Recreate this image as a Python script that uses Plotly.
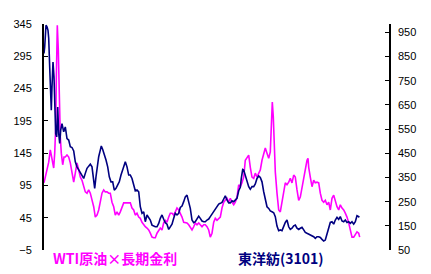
import plotly.graph_objects as go

# time index (weeks) and values
wti_t = [0, 1.3, 3, 4.7, 6.3, 8, 9.7, 10.7, 11.7, 12.3, 13.3, 14.3, 15.3, 16.3, 17.3, 18.7, 20, 21.3, 23, 24.7,
         26.3, 28, 29.7, 31.3, 33, 34.7, 36.3, 38, 39.7, 41.3, 43, 44.7, 46.3, 48, 49.7, 51.3, 53, 54.7, 56.3, 58,
         59.7, 61.3, 63, 64.7, 66.3, 68, 69.7, 71.3, 73, 74.7, 76.3, 78, 79.7, 81.3, 83, 84.7, 86.3, 88, 89.7, 91.3,
         93, 94.7, 96.3, 98, 99.7, 101.3, 103, 104.7, 106.3, 108, 109.7, 111.3, 113, 114.7, 116.3, 118, 119.7, 121.3,
         123, 124.7, 126.3, 128, 129.7, 131.3, 133, 134.7, 136.3, 138, 139.7, 141.3, 143, 144.7, 146.3, 148, 149.7,
         151.3, 153, 154.7, 156.3, 158, 159.7, 161.3, 163, 164.7, 166.3, 168, 169.7, 171.3, 173, 174.7, 176.3, 178,
         179.7, 181.3, 183, 184.7, 186.3, 188, 189.7, 191.3, 193, 194.7, 196.3, 198, 199.7, 201.3, 203, 204.7, 206.3,
         208, 209.7, 211.3, 213, 214.7, 216.3, 218, 219.7, 221.3, 223, 224.7, 226.3, 227.3, 228.3, 229.3, 230.3,
         231.3, 233, 234.7, 236.3, 238, 239.7, 241.3, 243, 244.7, 246.3, 248, 249.7, 251.3, 253, 254.7, 256.3, 258,
         259.7, 261.3, 263, 264, 264.7, 266.3, 268, 269.7, 271.3, 273, 274.7, 276.3, 278, 279.7, 281.3, 283, 284.7,
         286.3, 288, 289.7, 291.3, 293, 294.7, 296.3, 298, 299.7, 301.3, 303, 304.7, 306.3, 308, 309.7, 311.3, 313,
         314.7, 315.7]
wti_rate = [99, 108, 116, 131, 150, 134, 122, 145, 185, 258, 343, 305, 232, 170, 145, 127, 139, 139, 142, 139,
            130, 111, 100, 114, 130, 119, 108, 103, 93, 85, 83, 88, 83, 72, 62, 46, 49, 57, 69, 83,
            88, 85, 85, 83, 83, 69, 62, 49, 54, 49, 54, 60, 68, 68, 68, 69, 68, 60, 57, 49,
            52, 46, 44, 38, 34, 31, 29, 26, 21, 15, 14, 14, 21, 26, 29, 26, 37, 41,
            38, 46, 52, 52, 49, 54, 60, 57, 52, 46, 38, 37, 37, 34, 29, 26, 31,
            37, 34, 37, 34, 31, 34, 34, 31, 26, 15, 21, 38, 44, 41, 44, 46, 60,
            69, 72, 75, 69, 75, 69, 65, 69, 77, 96, 93, 99, 108, 134, 139, 142, 123,
            108, 106, 114, 108, 114, 119, 134, 142, 153, 145, 137, 147, 201, 224, 201, 154,
            116, 83, 57, 54, 68, 85, 99, 96, 100, 106, 99, 111, 108, 88, 72, 77, 93,
            106, 123, 134, 137, 123, 108, 93, 103, 99, 100, 99, 83, 72, 69, 72, 65, 69,
            57, 75, 80, 69, 62, 57, 65, 60, 57, 52, 46, 37, 26, 15, 15, 18, 23,
            21, 15]

toyobo_t = [0, 0.7, 2, 3, 4, 4.7, 5.7, 6.7, 7.3, 8, 9, 10, 11, 11.7, 12.7, 13.7, 14.7, 15.7, 16.7, 18, 19.7,
            21.3, 23, 24.7, 26.3, 28, 29.7, 31.3, 33, 34.7, 36.3, 38, 39.7, 41.3, 43, 44.7, 46.3, 48, 49.7, 50.7,
            52, 53, 54.7, 56.3, 57.3, 58.7, 60.3, 62, 63.7, 65.3, 67, 68.7, 70.3, 72, 73.7, 75.3, 77, 78.7, 79.7,
            81.3, 83, 84.7, 86.3, 88, 89.7, 91.3, 93, 94.7, 96.3, 98, 99.7, 101.3, 103, 104.7, 106.3, 108, 109.7,
            111.3, 113, 114.7, 116.3, 118, 119.7, 121.3, 123, 124.7, 126.3, 128, 129.7, 131.3, 133, 134.7, 136.3,
            138, 139.7, 141.3, 143, 144.7, 146.3, 148, 149.7, 151.3, 153, 154.7, 156.3, 158, 159.7, 161.3, 163,
            164.7, 166.3, 168, 169.7, 171.3, 173, 174.7, 176.3, 178, 179.7, 181.3, 183, 184.7, 186.3, 188, 189.7,
            191.3, 193, 194.7, 196.3, 197.3, 198.7, 199.7, 201.3, 203, 204.7, 206.3, 208, 209.7, 211.3, 213, 214.7,
            216.3, 218, 219.7, 221.3, 223, 224.7, 226.3, 228, 229.7, 231.3, 233, 234.7, 236.3, 238, 239.7, 241.3,
            243, 244.7, 246.3, 248, 249.7, 251.3, 253, 254.7, 256.3, 258, 259.7, 261.3, 263, 264.7, 266.3, 268,
            269.7, 271.3, 273, 274.7, 276.3, 278, 279.7, 281.3, 283, 284.7, 286.3, 288, 289.7, 291.3, 293, 294.7,
            296.3, 298, 299.7, 301.3, 303, 304.7, 306.3, 308, 309.7, 311.3, 313, 314.7, 315.3]
toyobo_price = [863, 890, 980, 973, 959, 926, 807, 683, 628, 725, 828, 766, 656, 532, 518, 642, 532, 491, 546, 573, 539,
                559, 511, 505, 477, 474, 460, 415, 394, 381, 369, 353, 346, 367, 388, 397, 405, 394, 332, 305,
                353, 394, 436, 463, 480, 466, 447, 422, 394, 353, 332, 332, 298, 305, 319, 332, 360, 388, 394,
                415, 394, 360, 360, 346, 319, 295, 298, 291, 229, 202, 208, 167, 195, 181, 174, 153, 149,
                146, 146, 160, 181, 195, 177, 163, 157, 135, 146, 157, 181, 202, 195, 202, 226,
                232, 250, 270, 277, 254, 222, 174, 163, 167, 181, 190, 181, 170, 167, 167, 174,
                178, 188, 199, 208, 218, 229, 240, 243, 247, 261, 274, 257, 245, 245, 254, 250,
                257, 264, 295, 309, 346, 383, 381, 356, 332, 312, 301, 312, 312, 323, 346, 356,
                350, 332, 291, 259, 229, 222, 212, 208, 204, 188, 149, 130, 133, 130, 149, 164,
                174, 146, 135, 140, 150, 153, 140, 135, 140, 144, 133, 123, 119, 116, 112, 108,
                105, 98, 105, 105, 102, 94, 87, 91, 119, 144, 164, 167, 157, 174, 185, 177,
                188, 170, 167, 174, 164, 167, 160, 167, 157, 167, 192, 188, 185]

left_ticks = [-5, 45, 95, 145, 195, 245, 295, 345]
right_ticks = [50, 150, 250, 350, 450, 550, 650, 750, 850, 950]

MAGENTA = "#FF00FF"
NAVY = "#000080"

fig = go.Figure()
fig.add_trace(go.Scatter(x=toyobo_t, y=toyobo_price, mode="lines", yaxis="y2",
                         line=dict(color=NAVY, width=1.6), showlegend=False))
fig.add_trace(go.Scatter(x=wti_t, y=wti_rate, mode="lines", yaxis="y",
                         line=dict(color=MAGENTA, width=1.6), showlegend=False))

tickfont = dict(family="Liberation Sans, Arial, sans-serif", size=11, color="black")
fig.update_layout(
    width=431, height=274,
    margin=dict(l=44, r=42, t=24, b=24, pad=0),
    paper_bgcolor="white", plot_bgcolor="white",
    xaxis=dict(range=[0, 345], showline=False, showticklabels=False, showgrid=False,
               zeroline=False, ticks=""),
    yaxis=dict(range=[-5, 345], tickvals=left_ticks, ticks="inside", ticklen=4, tickwidth=1,
               tickcolor="black", showline=True, linecolor="black", linewidth=2,
               showgrid=False, zeroline=False, tickfont=tickfont, ticklabelstandoff=8),
    yaxis2=dict(range=[50, 985], tickvals=right_ticks, overlaying="y", side="right",
                ticks="inside", ticklen=4, tickwidth=1, tickcolor="black", showline=True,
                linecolor="black", linewidth=1.5, showgrid=False, zeroline=False,
                tickfont=tickfont, ticklabelstandoff=5),
    annotations=[
        dict(text="<b>WTI原油×長期金利</b>", xref="paper", yref="paper", x=(51 - 44) / 345,
             y=-8 / 226, xanchor="left", yanchor="middle", showarrow=False,
             font=dict(family="Noto Sans CJK JP", size=14, color=MAGENTA)),
        dict(text="<b>東洋紡(3101)</b>", xref="paper", yref="paper", x=(236 - 44) / 345,
             y=-8 / 226, xanchor="left", yanchor="middle", showarrow=False,
             font=dict(family="Noto Sans CJK JP", size=14, color=NAVY)),
    ],
)

fig.write_html("out.html")
